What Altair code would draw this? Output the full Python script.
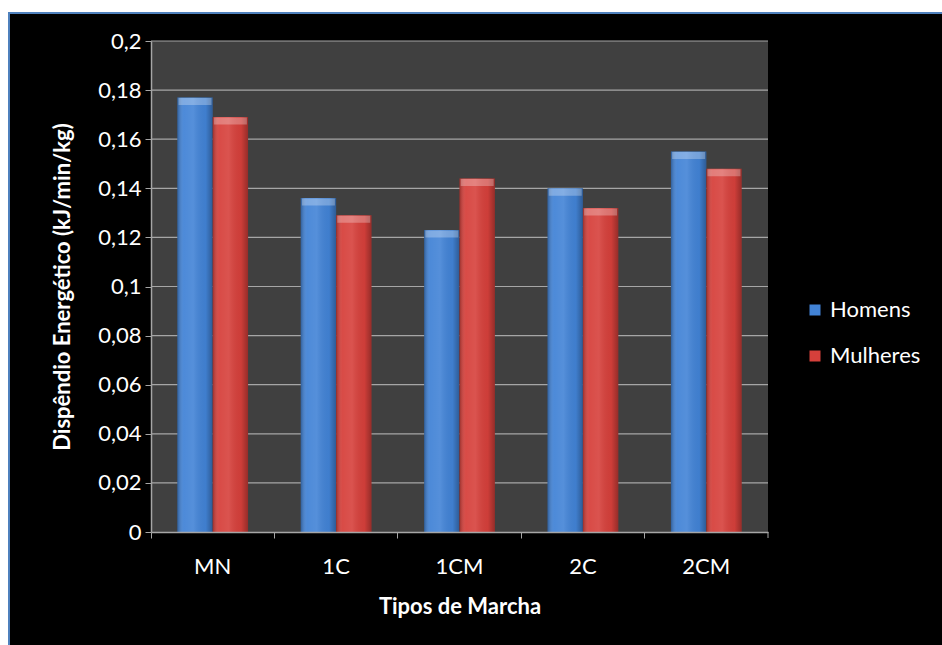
import altair as alt
import pandas as pd

categories = ["MN", "1C", "1CM", "2C", "2CM"]
series = ["Homens", "Mulheres"]
homens = [0.177, 0.136, 0.123, 0.140, 0.155]
mulheres = [0.169, 0.129, 0.144, 0.132, 0.148]
y_ticks = [0, 0.02, 0.04, 0.06, 0.08, 0.1, 0.12, 0.14, 0.16, 0.18, 0.2]

rows = []
for c, h, m in zip(categories, homens, mulheres):
    rows.append({"cat": c, "serie": "Homens", "value": h})
    rows.append({"cat": c, "serie": "Mulheres", "value": m})
df = pd.DataFrame(rows)
grid_df = pd.DataFrame({"value": y_ticks[1:]})

W, H = 617, 491
FONT = "Lato"
FS = 22
GRAY = "#a6a6a6"

one = alt.Data(values=[{"k": 1}])

bg = alt.Chart(one).mark_rect(color="black").encode(
    x=alt.value(-143), x2=alt.value(791), y=alt.value(-29), y2=alt.value(604)
)
border_left = alt.Chart(one).mark_rect(color="#4f81bd").encode(
    x=alt.value(-143), x2=alt.value(-141), y=alt.value(-29), y2=alt.value(604)
)
border_top = alt.Chart(one).mark_rect(color="#4f81bd").encode(
    x=alt.value(-143), x2=alt.value(791), y=alt.value(-29), y2=alt.value(-27)
)
plot_bg = alt.Chart(one).mark_rect(color="#404040").encode(
    x=alt.value(0), x2=alt.value(W), y=alt.value(0), y2=alt.value(H)
)
end_tick = alt.Chart(one).mark_rule(color=GRAY, strokeWidth=1).encode(
    x=alt.value(W), y=alt.value(H), y2=alt.value(H + 6)
)

yscale = alt.Scale(domain=[0, 0.2], nice=False, zero=True)
yaxis = alt.Axis(
    title="Dispêndio Energético (kJ/min/kg)", values=y_ticks,
    labelExpr="replace(format(datum.value, '.2~f'), '.', ',')",
    labelColor="white", labelFont=FONT, labelFontSize=FS,
    titleColor="white", titleFont=FONT, titleFontSize=FS, titleFontWeight="bold",
    tickColor=GRAY, tickSize=6, domainColor=GRAY, domainWidth=1.5,
    labelPadding=4, titlePadding=23, grid=False, zindex=1,
)
xaxis = alt.Axis(
    title="Tipos de Marcha", bandPosition=0, labelAngle=0,
    labelColor="white", labelFont=FONT, labelFontSize=FS,
    titleColor="white", titleFont=FONT, titleFontSize=FS, titleFontWeight="bold",
    tickColor=GRAY, tickSize=6, domainColor=GRAY, domainWidth=1.5,
    labelPadding=18, titlePadding=19, grid=False, zindex=1,
)
xenc = alt.X("cat:N", sort=categories,
             scale=alt.Scale(paddingInner=0, paddingOuter=0), axis=xaxis)
xoff = alt.XOffset("serie:N", sort=series,
                   scale=alt.Scale(paddingOuter=0.745, paddingInner=0))
yenc = alt.Y("value:Q", scale=yscale, axis=yaxis)

grid = alt.Chart(grid_df).mark_rule(color=GRAY, strokeWidth=1.2).encode(
    y=yenc, x=alt.value(0), x2=alt.value(W),
)

bars = alt.Chart(df).mark_bar().encode(
    x=xenc, xOffset=xoff, y=yenc,
    color=alt.Color(
        "serie:N", sort=series,
        scale=alt.Scale(domain=series, range=["#4283d6", "#d6403b"]),
        legend=alt.Legend(
            title=None, orient="none", legendX=653, legendY=258,
            labelColor="white", labelFont=FONT, labelFontSize=FS,
            symbolType="square", symbolSize=121, symbolStrokeWidth=0,
            rowPadding=24, labelOffset=4,
        ),
    ),
)

shade = alt.LinearGradient(
    gradient="linear", x1=0, x2=1, y1=0, y2=0,
    stops=[
        alt.GradientStop(color="rgba(0,0,0,0.28)", offset=0),
        alt.GradientStop(color="rgba(255,255,255,0.06)", offset=0.18),
        alt.GradientStop(color="rgba(255,255,255,0.10)", offset=0.45),
        alt.GradientStop(color="rgba(0,0,0,0.04)", offset=0.8),
        alt.GradientStop(color="rgba(0,0,0,0.30)", offset=1),
    ],
)
overlay = alt.Chart(df).mark_bar(fill=shade).encode(
    x=xenc, xOffset=xoff, y=yenc,
)
bevel = alt.Chart(df).mark_tick(color="white", opacity=0.28, thickness=7,
                                size=33, yOffset=4).encode(
    x=xenc, xOffset=xoff, y=yenc,
)

chart = alt.layer(
    bg, border_left, border_top, plot_bg, grid, end_tick, bars, overlay, bevel
).properties(
    width=W, height=H, background="white",
    padding={"left": 8, "top": 12, "right": 0, "bottom": 0},
).configure_view(stroke=None)

chart.save("out.html", embed_options={"renderer": "svg", "actions": False})
